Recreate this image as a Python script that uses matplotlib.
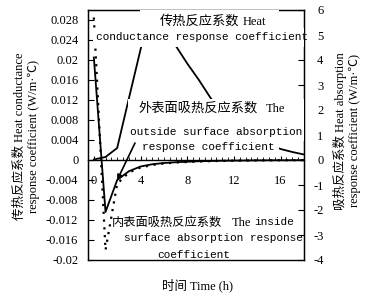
import matplotlib
matplotlib.use("Agg")
import matplotlib.pyplot as plt
from matplotlib.patches import Rectangle
import numpy as np

plt.rcParams['axes.unicode_minus'] = False

# ---- data ----
hours = list(range(0, 19))
conductance = [0.0001, 0.0006, 0.0024, 0.0123, 0.0221, 0.0310, 0.0305, 0.0229,
               0.0193, 0.0160, 0.0124, 0.0095, 0.0072, 0.0055, 0.0042, 0.0031,
               0.0022, 0.0016, 0.0011]
outside_abs = [4.1, -2.08, -0.8, -0.45, -0.26, -0.17, -0.12, -0.09, -0.07, -0.05,
               -0.04, -0.03, -0.025, -0.02, -0.015, -0.012, -0.01, -0.008, -0.006]
inside_abs = [5.7, -3.6, -0.95, -0.5, -0.3, -0.2, -0.14, -0.1, -0.08, -0.06,
              -0.045, -0.035, -0.028, -0.022, -0.017, -0.013, -0.01, -0.008, -0.006]

x_ticks = [0, 4, 8, 12, 16]
left_ticks = [-0.02, -0.016, -0.012, -0.008, -0.004, 0, 0.004, 0.008, 0.012,
              0.016, 0.02, 0.024, 0.028]
left_labels = ['-0.02', '-0.016', '-0.012', '-0.008', '-0.004', '0', '0.004',
               '0.008', '0.012', '0.016', '0.02', '0.024', '0.028']
right_ticks = [-4, -3, -2, -1, 0, 1, 2, 3, 4, 5, 6]
right_labels = ['-4', '-3', '-2', '-1', '0', '1', '2', '3', '4', '5', '6']

SERIF = ['Liberation Serif', 'Noto Sans CJK SC']
MONO = ['Liberation Mono', 'Noto Sans CJK SC']
CJK = ['Noto Sans CJK SC', 'Liberation Serif']

W, H = 369, 294
fig = plt.figure(figsize=(W / 100, H / 100), dpi=100)
L, R, T, B = 88, 304, 10, 260
ax = fig.add_axes([L / W, 1 - B / H, (R - L) / W, (B - T) / H])
ax2 = ax.twinx()

def fx(px):
    return (px - L) / (R - L)

def fy(py):
    return (B - py) / (B - T)

# conductance on left axis
ax.plot(hours, conductance, color='black', lw=1.3, zorder=3)
ax.set_xlim(-0.5, 18)
ax.set_ylim(-0.02, 0.03)
ax.spines['bottom'].set_position(('data', 0))
ax.spines['bottom'].set_linewidth(1.0)
ax.set_xticks(x_ticks)
ax.set_xticks(np.arange(0, 18.01, 0.5), minor=True)
ax.tick_params(axis='x', which='major', direction='in', length=3, pad=10.5,
               labelsize=9)
ax.tick_params(axis='x', which='minor', direction='in', length=2, width=0.6)
for lb in ax.get_xticklabels():
    lb.set_family(SERIF)
ax.set_yticks(left_ticks)
ax.set_yticklabels(left_labels, family=SERIF, fontsize=9)
ax.tick_params(axis='y', direction='in', length=4, pad=7)

# absorption on right axis
ax2.plot(hours, outside_abs, color='black', lw=1.3, zorder=3)
ax2.plot(hours, inside_abs, color='black', lw=1.6, linestyle=(0, (1, 2.5)),
         zorder=3)
ax2.set_ylim(-4, 6)
ax2.set_yticks(right_ticks)
ax2.set_yticklabels(right_labels, family=SERIF, fontsize=9)
ax2.tick_params(axis='y', direction='in', length=4, pad=14)
for lb in ax2.get_yticklabels():
    lb.set_ha('right')
for s in ax2.spines.values():
    s.set_linewidth(1.0)

# white boxes behind labels
def rect(x0, y0, x1, y1):
    ax2.add_patch(Rectangle((fx(x0), fy(y1)), fx(x1) - fx(x0), fy(y0) - fy(y1),
                            transform=ax2.transAxes, facecolor='white',
                            edgecolor='none', zorder=4, clip_on=True))

rect(140, 9, 279, 29)
rect(93, 28, 305, 47)
rect(128, 99, 305, 141)
rect(138, 140, 279, 155)

def txt(px, py, s, fam, size):
    ax2.text(fx(px), fy(py), s, transform=ax2.transAxes, family=fam,
             fontsize=size, ha='left', va='center', zorder=6)

txt(160, 21, '传热反应系数', CJK, 9.5)
txt(243, 22, 'Heat', SERIF, 9)
txt(96, 37, 'conductance response coefficient', MONO, 8)

txt(138, 108, '外表面吸热反应系数', CJK, 9.5)
txt(266, 109, 'The', SERIF, 9)
txt(130, 132, 'outside surface absorption', MONO, 8)
txt(142, 147, 'response coefficient', MONO, 8)

txt(112, 222, '内表面吸热反应系数', CJK, 8.8)
txt(232, 223, 'The', SERIF, 9)
txt(254, 222, 'inside', MONO, 8)
txt(124, 238, 'surface absorption response', MONO, 8)
txt(157, 255, 'coefficient', MONO, 8)

ax2.annotate('', xy=(hours[2], outside_abs[2]), xycoords='data',
             xytext=(fx(135), fy(143)), textcoords=ax2.transAxes,
             arrowprops=dict(arrowstyle='-|>', color='black', lw=1.2,
                             mutation_scale=7, shrinkA=0, shrinkB=0),
             zorder=7)

# axis titles
fig.text(27 / W, 1 - 136 / H,
         '传热反应系数 Heat conductance\nresponse coefficient (W/m·℃)',
         rotation=90, ha='center', va='center', family=SERIF, fontsize=9,
         linespacing=1.25)
fig.text(347 / W, 1 - 131 / H,
         '吸热反应系数 Heat absorption\nresponse coefficient (W/m·℃)',
         rotation=90, ha='center', va='center', family=SERIF, fontsize=9,
         linespacing=1.25)
fig.text(197 / W, 1 - 285 / H, '时间 Time (h)', ha='center', va='center',
         family=SERIF, fontsize=9)

fig.savefig('out.png', dpi=100)
